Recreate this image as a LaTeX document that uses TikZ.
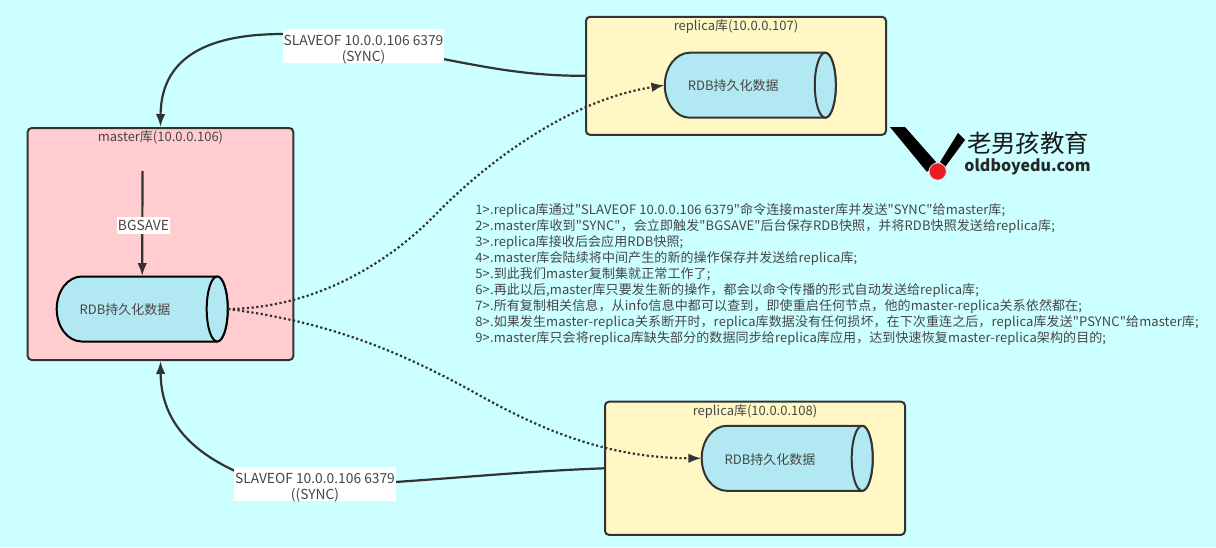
\documentclass[tikz,border=0pt]{standalone}
\usepackage{fontspec}
\newfontfamily\cjk{Noto Sans CJK SC}
\newfontfamily\cjkwide{Noto Sans CJK SC}[LetterSpace=0.8]
\usetikzlibrary{positioning, arrows.meta, calc}
\definecolor{bgcyan}{RGB}{204,255,255}
\definecolor{masterfill}{RGB}{255,204,208}
\definecolor{replicafill}{RGB}{255,248,196}
\definecolor{rdbfill}{RGB}{177,232,241}
\definecolor{linegray}{RGB}{51,51,51}
\definecolor{textgray}{RGB}{70,70,70}
\definecolor{logored}{RGB}{237,28,36}
\tikzset{
  HOST/.style={draw=linegray,line width=1pt,rectangle,rounded corners=2pt},
  TT/.style={font=\cjk\fontsize{6.5}{8}\selectfont,text=textgray,inner sep=0pt},
  RDB/.style={rectangle,minimum width=85.5pt,minimum height=32.5pt,inner sep=0pt,text width=85.5pt,text height=5.7pt,text depth=0pt,align=left,font=\cjk\fontsize{6.5}{8}\selectfont,text=textgray},
  SY/.style={->,>={Latex[length=6.5pt,width=4.8pt]},line width=1.1pt,linegray},
  DT/.style={SY,dash pattern=on 1.1pt off 1.25pt},
  LB/.style={fill=white,inner sep=0.5pt,align=center,font=\cjk\fontsize{6.9}{8}\selectfont,text=textgray},
}
% cylinder body first, then a named node with the text
\newcommand{\rdbcyl}[4]{
  \draw[fill=rdbfill,draw=#4,line width=1pt,shift={(#2,#3)}]
    (75,-32.5) -- (-60.5,-32.5) arc[start angle=-90,end angle=-270,x radius=25,y radius=32.5]
    -- (75,32.5) arc[start angle=90,end angle=-90,x radius=10.5,y radius=32.5] -- cycle;
  \draw[fill=rdbfill,draw=#4,line width=1pt,shift={(#2,#3)}] (75,0) ellipse[x radius=10.5,y radius=32.5];
  \node[RDB](#1) at (#2,#3){\hspace*{11.5pt}RDB持久化数据};
}
\newcommand{\slavelb}[1]{\rule{0pt}{7.5pt}SLAVEOF 10.0.0.106 6379\\\raisebox{0pt}[\height][0pt]{#1}}
\begin{document}
\begin{tikzpicture}[x=0.5pt,y=-0.5pt]
\useasboundingbox[fill=bgcyan] (0,0) rectangle (1216,547);

% Hosts
\node[HOST,fill=masterfill,minimum width=132.8pt,minimum height=116pt](master) at (160.5,244){};
\node[HOST,fill=replicafill,minimum width=150pt,minimum height=59pt](replicaA) at (736,75.8){};
\node[HOST,fill=replicafill,minimum width=150pt,minimum height=66.6pt](replicaB) at (755,468.3){};
\node[TT](mastertitle) at (160.5,137){master库(10.0.0.106)};
\node[TT](replicaAtitle) at (736,26.5){replica库(10.0.0.107)};
\node[TT](replicaBtitle) at (755,412){replica库(10.0.0.108)};

% RDB files
\rdbcyl{rdbM}{142.2}{309}{black}
\rdbcyl{rdbA}{750.3}{85.2}{linegray}
\rdbcyl{rdbB}{787.2}{458.3}{linegray}

% SLAVEOF flows
\draw[SY](replicaA.west) .. controls (530,76) and (490,68) .. (443,59) -- (283,34)
  .. controls (220,34) and (161,50) .. (master.north);
\draw[SY](replicaB.west) .. controls (530,471) and (470,477) .. (395,482) -- (235,471)
  .. controls (190,450) and (161,420) .. (master.south);

% BGSAVE
\coordinate(bgstart) at (142.5,171);
\draw[SY](bgstart)--(rdbM.north);

% RDB transfer
\draw[DT](rdbM.east) .. controls (310,308) and (385,268) .. (440,210)
  .. controls (490,160) and (570,100) .. (rdbA.west);
\draw[DT](rdbM.east) .. controls (330,322) and (400,352) .. (470,390)
  .. controls (530,424) and (600,458) .. (rdbB.west);

% Labels
\node[LB,minimum width=79.5pt,minimum height=17pt](slaveA) at (363.5,46){\slavelb{(SYNC)}};
\node[LB,minimum width=80pt,minimum height=17pt](slaveB) at (315,484){\slavelb{((SYNC)}};
\node[LB,minimum width=26.5pt,minimum height=8.7pt](bgsave) at (143.5,225.5){BGSAVE};

% Steps
\node[TT,font=\cjkwide\fontsize{6.5}{8}\selectfont,anchor=north west,align=left](steps) at (475,203){%
1>.replica库通过"SLAVEOF 10.0.0.106 6379"命令连接master库并发送"SYNC"给master库;\\
2>.master库收到"SYNC"，会立即触发"BGSAVE"后台保存RDB快照，并将RDB快照发送给replica库;\\
3>.replica库接收后会应用RDB快照;\\
4>.master库会陆续将中间产生的新的操作保存并发送给replica库;\\
5>.到此我们master复制集就正常工作了;\\
6>.再此以后,master库只要发生新的操作，都会以命令传播的形式自动发送给replica库;\\
7>.所有复制相关信息，从info信息中都可以查到，即使重启任何节点，他的master-replica关系依然都在;\\
8>.如果发生master-replica关系断开时，replica库数据没有任何损坏，在下次重连之后，replica库发送"PSYNC"给master库;\\
9>.master库只会将replica库缺失部分的数据同步给replica库应用，达到快速恢复master-replica架构的目的;};

% Logo
\fill[black] (890,127)--(905,127)--(936,162)--(927,172)--cycle;
\fill[black] (958,133)--(965,140)--(945,167)--(940,162)--cycle;
\node[circle,fill=logored,draw=white!70!gray,line width=0.4pt,minimum size=8.6pt,inner sep=0pt](logodot) at (937.7,171.5){};
\node[inner sep=0pt,font=\cjk\fontsize{12.2}{14}\selectfont,text=black!90](logocn) at (1028,143){老男孩教育};
\node[inner sep=0pt,font=\cjk\fontsize{8}{10}\selectfont\bfseries,text=black!85](logoen) at (1027.5,167){oldboyedu.com};
\end{tikzpicture}
\end{document}
